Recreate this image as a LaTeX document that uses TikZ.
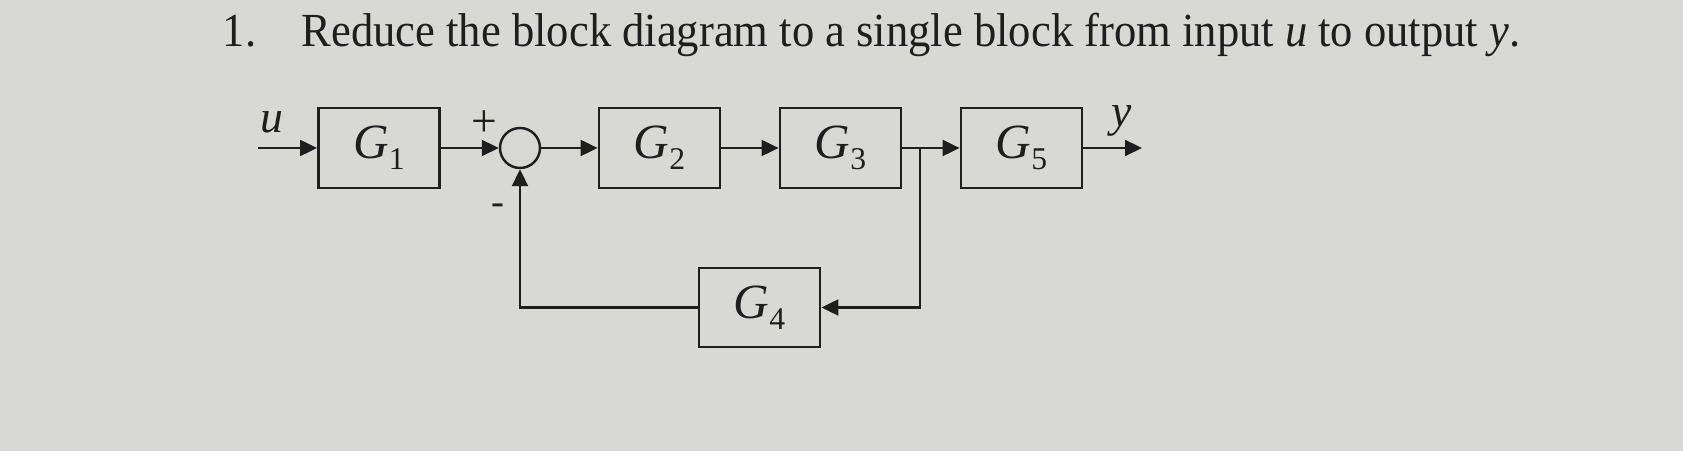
\documentclass[tikz,border=0pt]{standalone}
\usepackage{fontspec}
\setmainfont{Liberation Serif}
\newfontfamily\qfont[FakeStretch=0.94]{Liberation Serif}
\usetikzlibrary{arrows.meta, positioning}
\definecolor{paperGray}{RGB}{216,216,213}
\definecolor{inkGray}{RGB}{30,30,30}
\newcommand{\gblk}[1]{\textit{G}\raisebox{-0.5ex}{\small #1}}

\begin{document}
\begin{tikzpicture}[
    blk/.style={rectangle, draw=inkGray, line width=0.8pt, minimum width=1.21cm, minimum height=0.80cm, inner sep=0pt, font=\fontsize{14}{16}\selectfont, text=inkGray},
    sumnode/.style={circle, draw=inkGray, line width=0.7pt, minimum size=0.40cm, inner sep=0pt},
    sig/.style={-{Triangle[length=1.7mm, width=1.6mm]}, line width=0.6pt, draw=inkGray},
    lbl/.style={font=\fontsize{13}{15}\selectfont, text=inkGray},
    qtext/.style={anchor=base west, inner sep=0pt, text=inkGray, font=\qfont\fontsize{13.5}{16}\selectfont}
]
\useasboundingbox (0,0) rectangle (16.83,4.51);
\fill[paperGray] (0,0) rectangle (16.83,4.51);

% Question text
\node[qtext] (num) at (2.22,4.04) {1.};
\node[qtext] (question) at (3.01,4.04) {Reduce the block diagram to a single block from input \textit{u} to output \textit{y}.};

% Blocks
\node[blk] (g1) at (3.79,3.03) {\gblk{1}};
\node[sumnode] (sum) at (5.20,3.03) {};
\node[blk] (g2) at (6.595,3.03) {\gblk{2}};
\node[blk] (g3) at (8.405,3.03) {\gblk{3}};
\node[blk] (g5) at (10.215,3.03) {\gblk{5}};
\node[blk, minimum height=0.79cm] (g4) at (7.595,1.435) {\gblk{4}};

% Free ends and branch point
\coordinate (in) at (2.58,3.03);
\coordinate (out) at (11.42,3.03);
\coordinate (branch) at (9.20,3.03);

% Forward path
\draw[sig] (in) -- (g1);
\draw[sig] (g1) -- (sum);
\draw[sig] (sum) -- (g2);
\draw[sig] (g2) -- (g3);
\draw[sig] (g3) -- (g5);
\draw[sig] (g5) -- (out);

% Feedback path
\draw[sig] (branch) |- (g4);
\draw[sig] (g4) -| (sum);

% Signal labels
\node[lbl] (ulbl) at (2.72,3.29) {\textit{u}};
\node[lbl] (ylbl) at (11.22,3.30) {\textit{y}};
\node[lbl] (plus) at (4.84,3.27) {+};
\node[lbl, font=\fontsize{11}{13}\selectfont] (minus) at (4.98,2.42) {-};

\end{tikzpicture}
\end{document}
